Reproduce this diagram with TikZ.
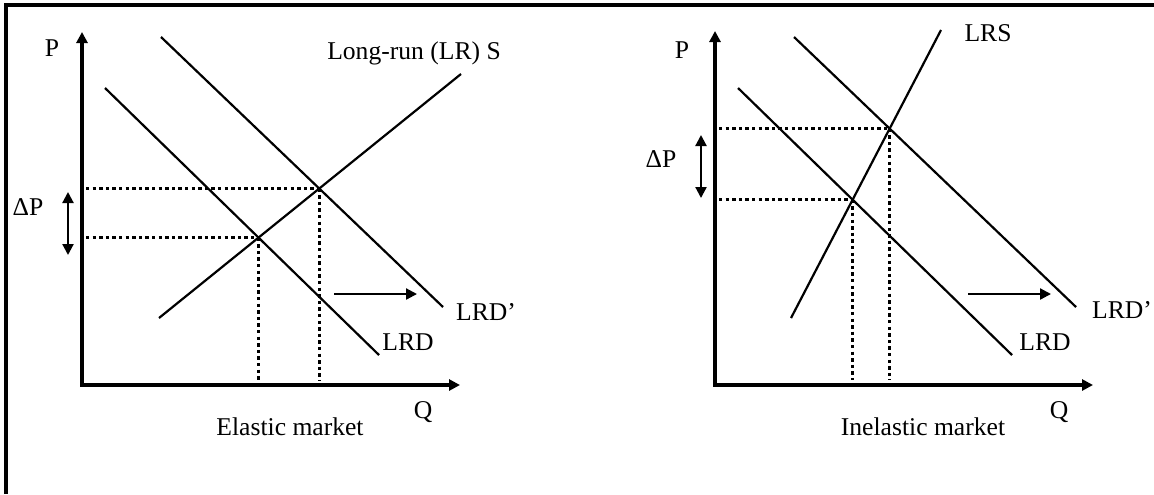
\documentclass[tikz,border=0pt]{standalone}
\usepackage{fontspec}
\setmainfont{Liberation Serif}
\usetikzlibrary{arrows.meta}
\newcommand{\tipL}{5.5pt}
\newcommand{\tipW}{5.5pt}
\tikzset{
  mkframe/.style ={line width=1.6pt},
  mkaxis/.style  ={line width=1.7pt,{Triangle[length=\tipL,width=\tipW]}-{Triangle[length=\tipL,width=\tipW]}},
  mkcurve/.style ={line width=1.1pt},
  mkguide/.style ={line width=1.6pt,dash pattern=on 1.7pt off 1.6pt},
  mkshift/.style ={line width=1.1pt,-{Triangle[length=\tipL,width=\tipW]}},
  mkdelta/.style ={line width=1.1pt,{Triangle[length=\tipL,width=\tipW]}-{Triangle[length=\tipL,width=\tipW]}},
  mklab/.style   ={inner sep=0pt,font=\fontsize{12.8}{15}\selectfont},
}
% axes: name, origin x, origin y, top of P axis, end of Q axis
\newcommand{\mkaxes}[5]{%
  \coordinate (#1o) at (#2,#3);
  \coordinate (#1p) at (#2,#4);
  \coordinate (#1q) at (#5,#3);
  \draw[mkaxis] (#1p) -- (#1o) -- (#1q);
}
% guides from an equilibrium point down to Q and across to P
\newcommand{\mkguides}[2]{%
  \draw[mkguide,shorten <=2pt] (#1o |- #2) -- (#2);
  \draw[mkguide,shorten >=2.5pt] (#2) -- (#2 |- #1o);
}

\begin{document}
\begin{tikzpicture}[x=0.5pt,y=-0.5pt]
  \useasboundingbox (0,0) rectangle (1154,494);
  \draw[mkframe] (6,494) -- (6,5) -- (1154,5);

  % elastic market
  \mkaxes{e}{82}{385}{32}{460}
  \coordinate (eD1) at (105,88);  \coordinate (eD2) at (379,355);
  \coordinate (eN1) at (161,37);  \coordinate (eN2) at (443,307);
  \coordinate (eS1) at (159,318); \coordinate (eS2) at (461,74);
  \draw[mkcurve] (eD1) -- (eD2);
  \draw[mkcurve] (eN1) -- (eN2);
  \draw[mkcurve] (eS1) -- (eS2);
  \coordinate (eA) at (intersection of eD1--eD2 and eS1--eS2);
  \coordinate (eB) at (intersection of eN1--eN2 and eS1--eS2);
  \mkguides{e}{eA}
  \mkguides{e}{eB}
  \coordinate (eU) at (68,192);  \coordinate (eL) at (68,255);
  \draw[mkdelta] (eU) -- (eL);
  \coordinate (eF) at (334,294); \coordinate (eT) at (417,294);
  \draw[mkshift] (eF) -- (eT);
  \node[mklab] (eP)   at (52,48)   {P};
  \node[mklab] (edP)  at (28,207)  {ΔP};
  \node[mklab] (eSl)  at (414,53)  {Long-run (LR) S};
  \node[mklab] (eNl)  at (486,312) {LRD’};
  \node[mklab] (eDl)  at (408,342) {LRD};
  \node[mklab] (eQ)   at (423,412) {Q};
  \node[mklab] (eTit) at (290,427) {Elastic market};

  % inelastic market
  \mkaxes{i}{715}{385}{31}{1093}
  \coordinate (iD1) at (738,88);  \coordinate (iD2) at (1012,355);
  \coordinate (iN1) at (794,37);  \coordinate (iN2) at (1076,307);
  \coordinate (iS1) at (791,318); \coordinate (iS2) at (941,30);
  \draw[mkcurve] (iD1) -- (iD2);
  \draw[mkcurve] (iN1) -- (iN2);
  \draw[mkcurve] (iS1) -- (iS2);
  \coordinate (iA) at (intersection of iD1--iD2 and iS1--iS2);
  \coordinate (iB) at (intersection of iN1--iN2 and iS1--iS2);
  \mkguides{i}{iA}
  \mkguides{i}{iB}
  \coordinate (iU) at (701,135); \coordinate (iL) at (701,198);
  \draw[mkdelta] (iU) -- (iL);
  \coordinate (iF) at (968,294); \coordinate (iT) at (1051,294);
  \draw[mkshift] (iF) -- (iT);
  \node[mklab] (iP)   at (682,50)   {P};
  \node[mklab] (idP)  at (661,159)  {ΔP};
  \node[mklab] (iSl)  at (988,33)   {LRS};
  \node[mklab] (iNl)  at (1122,310) {LRD’};
  \node[mklab] (iDl)  at (1045,342) {LRD};
  \node[mklab] (iQ)   at (1059,412) {Q};
  \node[mklab] (iTit) at (923,427)  {Inelastic market};
\end{tikzpicture}
\end{document}
